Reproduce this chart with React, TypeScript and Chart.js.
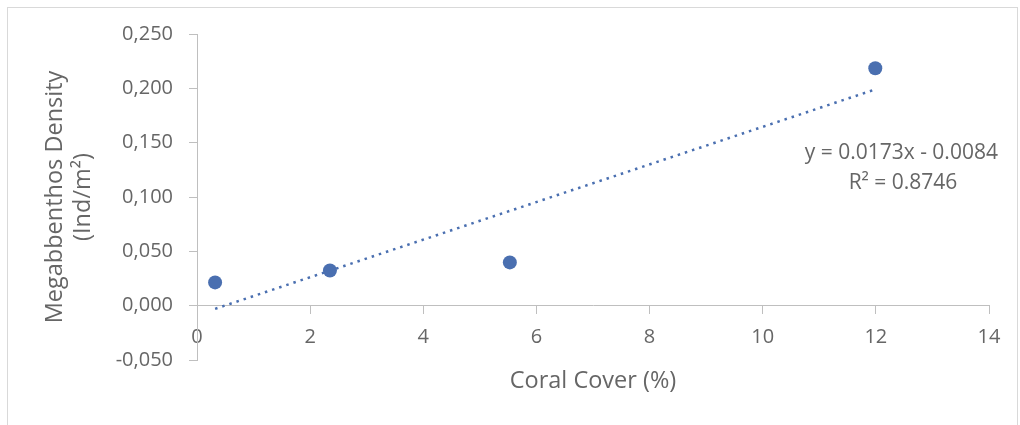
import React, { useEffect, useRef } from "react";
import { Chart, registerables } from "chart.js";

Chart.register(...registerables);

// Data
const coralCover: number[] = [0.32, 2.35, 5.53, 11.99];
const megabenthosDensity: number[] = [0.0214, 0.0324, 0.0398, 0.2185];
const trendX: number[] = [0.32, 11.99];
const trendY: number[] = [-0.0029, 0.199];
const equationLines: string[] = ["y = 0.0173x - 0.0084", "R² = 0.8746"];
const equationAnchorX: number[] = [12.45, 12.48];
const equationAnchorY: number[] = [0.1405, 0.1128];
const xTitle = "Coral Cover (%)";
const yTitle: string[] = ["Megabbenthos Density", "(Ind/m²)"];

const FONT = "'Open Sans', sans-serif";
const TEXT = "#666666";
const AXIS = "#bfbfbf";
const BLUE = "#4a6fb0";

const framePlugin = {
  id: "frame",
  beforeDraw(chart: any) {
    const ctx = chart.ctx;
    ctx.save();
    ctx.fillStyle = "#ffffff";
    ctx.fillRect(0, 0, chart.width, chart.height);
    ctx.strokeStyle = "#d9d9d9";
    ctx.lineWidth = 1;
    ctx.strokeRect(7.5, 7.5, 1010, 500);
    ctx.restore();
  },
};

const equationPlugin = {
  id: "equation",
  afterDatasetsDraw(chart: any) {
    const ctx = chart.ctx;
    const xs = chart.scales.x;
    const ys = chart.scales.y;
    ctx.save();
    ctx.font = `21px ${FONT}`;
    ctx.fillStyle = TEXT;
    ctx.textAlign = "center";
    ctx.textBaseline = "middle";
    equationLines.forEach((t, i) => {
      ctx.fillText(t, xs.getPixelForValue(equationAnchorX[i]), ys.getPixelForValue(equationAnchorY[i]));
    });
    ctx.restore();
  },
};

function fmt(v: number): string {
  const n = Math.abs(v) < 1e-9 ? 0 : v;
  return n.toFixed(3).replace(".", ",");
}

export default function App() {
  const ref = useRef<HTMLCanvasElement | null>(null);

  useEffect(() => {
    if (!ref.current) return;
    const chart = new Chart(ref.current, {
      type: "scatter",
      data: {
        datasets: [
          {
            label: "Density",
            data: coralCover.map((x, i) => ({ x, y: megabenthosDensity[i] })),
            backgroundColor: BLUE,
            borderColor: BLUE,
            pointRadius: 7,
            pointHoverRadius: 7,
            borderWidth: 0,
            order: 0,
          },
          {
            type: "line",
            label: "Trend",
            data: trendX.map((x, i) => ({ x, y: trendY[i] })),
            borderColor: BLUE,
            borderWidth: 2.5,
            borderDash: [2.5, 5],
            pointRadius: 0,
            fill: false,
            order: 1,
          } as any,
        ],
      },
      options: {
        responsive: false,
        animation: false,
        devicePixelRatio: 1,
        layout: { padding: { left: 0, right: 31, top: 34, bottom: 65 } },
        plugins: {
          legend: { display: false },
          tooltip: { enabled: false },
        },
        scales: {
          x: {
            type: "linear",
            position: { y: 0 } as any,
            min: 0,
            max: 14,
            ticks: {
              stepSize: 2,
              color: TEXT,
              font: { family: FONT, size: 20 },
              padding: 12,
              maxRotation: 0,
            },
            grid: {
              display: true,
              drawOnChartArea: false,
              drawTicks: true,
              tickLength: 8,
              color: AXIS,
            },
            border: { display: true, color: AXIS, width: 1 },
            title: {
              display: true,
              text: xTitle,
              color: TEXT,
              font: { family: FONT, size: 23.5 },
              padding: { top: 0, bottom: -25 },
            },
            afterFit(scale: any) {
              scale.height = 65;
            },
          },
          y: {
            type: "linear",
            position: "left",
            min: -0.05,
            max: 0.25,
            ticks: {
              stepSize: 0.05,
              color: TEXT,
              font: { family: FONT, size: 20 },
              padding: 16,
              callback: (v: any) => fmt(Number(v)),
            },
            grid: {
              display: true,
              drawOnChartArea: false,
              drawTicks: true,
              tickLength: 8,
              color: AXIS,
            },
            border: { display: true, color: AXIS, width: 1 },
            title: {
              display: true,
              text: yTitle,
              color: TEXT,
              font: { family: FONT, size: 23.5, lineHeight: 28 / 23.5 },
              padding: { top: 41, bottom: 0 },
            },
            afterFit(scale: any) {
              scale.width = 197;
            },
          },
        },
      },
      plugins: [framePlugin, equationPlugin],
    });
    return () => chart.destroy();
  }, []);

  return (
    <div style={{ position: "absolute", left: 0, top: 0, width: 1020, height: 425 }}>
      <canvas ref={ref} width={1020} height={425} style={{ width: 1020, height: 425 }} />
    </div>
  );
}
